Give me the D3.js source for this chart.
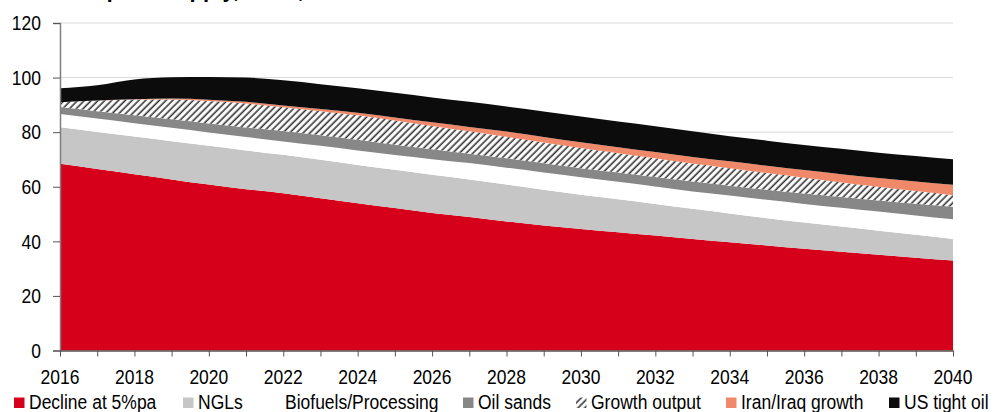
<!DOCTYPE html>
<html>
<head>
<meta charset="utf-8">
<script src="https://cdn.jsdelivr.net/npm/d3@7"></script>
<style>
  body { margin: 0; background: #fff; }
  svg text { font-family: "Liberation Sans", Arial, sans-serif; fill: #000; }
</style>
</head>
<body>
<svg id="chart" width="1000" height="412"></svg>
<script>
// years on the x axis
const years = d3.range(2016, 2041);

// series values, mb/d
const declineVals = [68.4, 66.5, 64.6, 62.7, 60.8, 59.1, 57.6, 55.8, 54.0, 52.2, 50.4, 48.9, 47.3, 45.8, 44.5, 43.3, 42.1, 40.9, 39.7, 38.5, 37.3, 36.2, 35.1, 34.0, 33.0];
const nglVals = [13.4, 13.6, 13.8, 14.0, 14.2, 14.2, 14.1, 14.1, 14.0, 14.0, 14.0, 13.8, 13.5, 13.1, 12.6, 12.1, 11.6, 11.0, 10.5, 10.0, 9.6, 9.2, 8.8, 8.4, 7.9];
const biofuelVals = [4.9, 4.9, 4.9, 4.9, 4.9, 4.9, 4.9, 5.1, 5.3, 5.4, 5.7, 6.0, 6.2, 6.3, 6.4, 6.4, 6.4, 6.4, 6.6, 6.7, 6.8, 6.9, 7.0, 7.1, 7.2];
const oilSandsVals = [2.5, 2.7, 2.9, 3.1, 3.3, 3.5, 3.8, 3.9, 3.9, 3.8, 3.6, 3.4, 3.4, 3.4, 3.3, 3.4, 3.5, 3.6, 3.6, 3.7, 3.8, 3.9, 4.1, 4.3, 4.6];
const growthVals = [1.8, 3.9, 5.8, 7.3, 8.2, 8.8, 8.7, 8.8, 9.0, 8.9, 8.6, 8.2, 7.9, 7.6, 7.4, 7.1, 6.8, 6.6, 6.4, 6.1, 5.8, 5.4, 5.0, 4.6, 4.2];
const iranIraqVals = [0, 0, 0.1, 0.3, 0.5, 0.6, 0.7, 0.8, 0.9, 1.1, 1.3, 1.6, 1.9, 2.0, 2.1, 2.2, 2.3, 2.4, 2.5, 2.7, 2.8, 3.0, 3.2, 3.5, 3.8];
const tightOilVals = [5.1, 5.6, 7.2, 7.8, 8.3, 8.9, 9.2, 9.1, 9.0, 9.0, 9.1, 9.2, 9.2, 9.4, 9.4, 9.4, 9.5, 9.4, 9.2, 9.2, 9.2, 9.3, 9.3, 9.4, 9.4];

const seriesNames = ["Decline at 5%pa", "NGLs", "Biofuels/Processing", "Oil sands", "Growth output", "Iran/Iraq growth", "US tight oil"];
const seriesVals = [declineVals, nglVals, biofuelVals, oilSandsVals, growthVals, iranIraqVals, tightOilVals];
const seriesFills = ["#d7001a", "#c6c6c6", "#ffffff", "#878787", "url(#hatch)", "#f0886a", "#0c0c0c"];

const yTicks = [0, 20, 40, 60, 80, 100, 120];
const xTickLabels = d3.range(2016, 2041, 2);

const titleText = "Total liquids supply, mb/d, 2016-40";

// legend x offsets (marker left)
const legendX = [14, 183, 270, 463, 576, 726, 889];

const svg = d3.select("#chart");
const textScale = 1.2;   // the picture's type is stretched tall

const x = d3.scaleLinear().domain([2016, 2040]).range([60, 953]);
const y = d3.scaleLinear().domain([0, 120]).range([350.5, 23]);

// hatch pattern for growth output
const defs = svg.append("defs");
const pat = defs.append("pattern")
    .attr("id", "hatch")
    .attr("patternUnits", "userSpaceOnUse")
    .attr("width", 4.8)
    .attr("height", 4.8)
    .attr("patternTransform", "rotate(45)");
pat.append("rect").attr("width", 4.8).attr("height", 4.8).attr("fill", "#fff");
pat.append("line")
    .attr("x1", 1.2).attr("y1", 0).attr("x2", 1.2).attr("y2", 4.8)
    .attr("stroke", "#333").attr("stroke-width", 1.6);

function addText(g, str, tx, ty, anchor, size, weight) {
    return g.append("text")
        .attr("transform", "translate(" + tx + "," + ty + ") scale(1," + textScale + ")")
        .attr("text-anchor", anchor)
        .style("font-size", size + "px")
        .style("font-weight", weight || "normal")
        .text(str);
}

// title (mostly cropped off the top, as in the source)
addText(svg, titleText, 30, -3, "start", 22, "bold");

// gridlines
svg.append("g").selectAll("line")
    .data(yTicks.filter(d => d > 0))
    .join("line")
    .attr("x1", x(2016)).attr("x2", x(2040))
    .attr("y1", d => y(d)).attr("y2", d => y(d))
    .attr("stroke", "#d9d9d9").attr("stroke-width", 1);

// stacked areas
const table = years.map((yr, i) => {
    const row = { year: yr };
    seriesNames.forEach((n, k) => { row[n] = seriesVals[k][i]; });
    return row;
});
const stacked = d3.stack().keys(seriesNames)(table);

const area = d3.area()
    .x(d => x(d.data.year))
    .y0(d => y(d[0]))
    .y1(d => y(d[1]))
    .curve(d3.curveMonotoneX);

svg.append("g").selectAll("path")
    .data(stacked)
    .join("path")
    .attr("d", area)
    .attr("fill", (d, i) => seriesFills[i])
    .attr("stroke", "none");

// axes
const yAxis = d3.axisLeft(y).tickValues(yTicks).tickSize(7).tickFormat("");
const yG = svg.append("g").attr("transform", "translate(60,0)").call(yAxis);
yG.select(".domain").attr("stroke", "#7f7f7f").attr("stroke-width", 1.5);
yG.selectAll(".tick line").attr("stroke", "#555");
yTicks.forEach(t => addText(svg, String(t), 41, y(t) + 7.2, "end", 17.5));

const xAxis = d3.axisBottom(x).tickValues(years).tickSize(6).tickFormat("").tickSizeOuter(0);
const xG = svg.append("g").attr("transform", "translate(0," + y(0) + ")").call(xAxis);
xG.select(".domain").attr("stroke", "#555").attr("stroke-width", 1.5);
xG.selectAll(".tick line").attr("stroke", "#555");
xTickLabels.forEach(t => addText(svg, String(t), x(t), 384, "middle", 17.5));

// legend
const leg = svg.append("g");
seriesNames.forEach((n, i) => {
    leg.append("rect")
        .attr("x", legendX[i]).attr("y", 397.5)
        .attr("width", 10.5).attr("height", 10.5)
        .attr("fill", seriesFills[i]);
    addText(leg, n, legendX[i] + 15, 409, "start", 17.5);
});
</script>
</body>
</html>
